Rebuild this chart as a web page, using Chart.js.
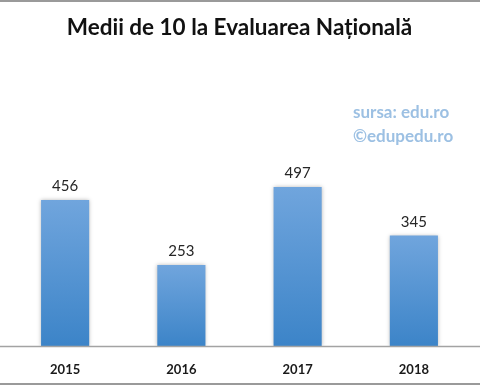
<!DOCTYPE html>
<html lang="ro">
<head>
  <meta charset="UTF-8" />
  <title>Medii de 10 la Evaluarea Națională</title>
  <script src="https://cdn.jsdelivr.net/npm/chart.js"></script>
  <style>
    body {
      margin: 0;
      background: #fff;
    }
    .wrap {
      width: 480px;
      height: 385px;
    }
  </style>
</head>
<body>
  <div class="wrap">
    <canvas id="chart" width="480" height="385"></canvas>
  </div>

  <script>
    const years = ['2015', '2016', '2017', '2018'];
    const tens = [456, 253, 497, 345];
    const sourceLines = ['sursa: edu.ro', '©edupedu.ro'];

    const FONT = "Lato, 'Open Sans', sans-serif";

    // per-bar vertical gradient, light on top, darker at the base
    function barFill(c) {
      const chart = c.chart;
      const y = chart.scales.y;
      if (c.type !== 'data' || !y || !chart.chartArea) return '#5b9bd5';
      const top = y.getPixelForValue(c.raw);
      const base = y.getPixelForValue(0);
      const g = chart.ctx.createLinearGradient(0, top, 0, base);
      g.addColorStop(0, '#70a5dd');
      g.addColorStop(1, '#3c84c8');
      return g;
    }

    // frame lines, soft shadow on bars, value labels and source note
    const decor = {
      id: 'decor',
      beforeDatasetsDraw(chart) {
        const { ctx } = chart;
        ctx.save();
        ctx.shadowColor = 'rgba(0,0,0,0.28)';
        ctx.shadowBlur = 4;
      },
      afterDatasetsDraw(chart) {
        const { ctx, chartArea } = chart;
        ctx.restore();

        ctx.save();
        ctx.strokeStyle = '#a3a3a3';
        ctx.lineWidth = 1.5;
        ctx.beginPath();
        ctx.moveTo(0, chartArea.bottom + 0.5);
        ctx.lineTo(chart.width, chartArea.bottom + 0.5);
        ctx.stroke();

        ctx.strokeStyle = '#9a9a9a';
        ctx.lineWidth = 2;
        ctx.beginPath();
        ctx.moveTo(0, 1);
        ctx.lineTo(chart.width, 1);
        ctx.moveTo(0, chart.height - 1);
        ctx.lineTo(chart.width, chart.height - 1);
        ctx.stroke();

        const meta = chart.getDatasetMeta(0);
        ctx.fillStyle = '#262626';
        ctx.font = '15px ' + FONT;
        ctx.textAlign = 'center';
        ctx.textBaseline = 'bottom';
        meta.data.forEach((bar, i) => {
          ctx.fillText(String(tens[i]), bar.x, bar.y - 6);
        });

        ctx.fillStyle = '#9cc0e3';
        ctx.font = 'bold 17px ' + FONT;
        ctx.textAlign = 'left';
        ctx.textBaseline = 'middle';
        sourceLines.forEach((t, i) => {
          ctx.fillText(t, 353, 113 + i * 24);
        });
        ctx.restore();
      }
    };

    new Chart(document.getElementById('chart'), {
      type: 'bar',
      data: {
        labels: years,
        datasets: [{
          data: tens,
          backgroundColor: barFill,
          borderWidth: 0,
          barPercentage: 0.414,
          categoryPercentage: 1
        }]
      },
      options: {
        responsive: false,
        animation: false,
        layout: {
          padding: { left: 7, right: 8, bottom: 0 }
        },
        plugins: {
          legend: { display: false },
          tooltip: { enabled: false },
          title: {
            display: true,
            text: 'Medii de 10 la Evaluarea Națională',
            color: '#111',
            font: { family: FONT, size: 22.5, weight: 'bold' },
            padding: { top: 14, bottom: 113 }
          }
        },
        scales: {
          x: {
            grid: { display: false, drawTicks: false },
            border: { display: false },
            afterFit(scale) {
              scale.height = 39;
            },
            ticks: {
              color: '#1a1a1a',
              padding: 16,
              font: { family: FONT, size: 13, weight: 'bold' }
            }
          },
          y: {
            display: false,
            min: 0,
            max: 600
          }
        }
      },
      plugins: [decor]
    });
  </script>
</body>
</html>
